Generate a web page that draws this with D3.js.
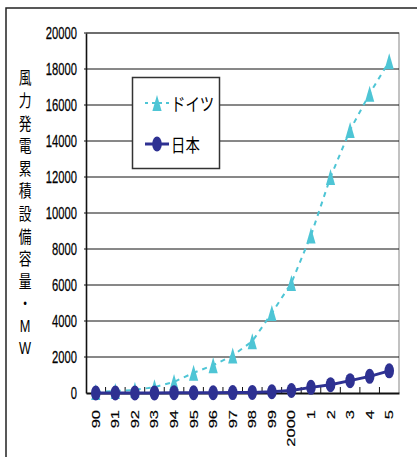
<!DOCTYPE html>
<html>
<head>
<meta charset="utf-8">
<script src="https://cdn.jsdelivr.net/npm/d3@7"></script>
<style>
  html, body { margin: 0; padding: 0; background: #fff; }
  svg { display: block; }
</style>
</head>
<body>
<script>
// Cumulative installed wind power capacity (MW), 1990–2005
const years = ["90","91","92","93","94","95","96","97","98","99","2000","1","2","3","4","5"];
const germany = [56, 106, 174, 326, 618, 1121, 1546, 2082, 2875, 4442, 6113, 8754, 11994, 14609, 16629, 18428];
const japan = [1, 1, 3, 5, 10, 10, 14, 21, 32, 70, 142, 313, 463, 686, 925, 1230];
const yTicks = [0, 2000, 4000, 6000, 8000, 10000, 12000, 14000, 16000, 18000, 20000];
const seriesNames = ["ドイツ", "日本"];
const yTitle = "風力発電累積設備容量・MW";

const W = 417, H = 457;
const plot = { left: 86, right: 399, top: 33, bottom: 393 };
const SX = 0.68;               // condensed lettering
const cyan = "#4EC5D5", navy = "#2E3192";
const latin = "'Liberation Sans', Arial, sans-serif";
const cjk = "'Noto Sans CJK JP', sans-serif";

const svg = d3.select("body").append("svg").attr("width", W).attr("height", H);

// outer frame
svg.append("rect").attr("x", 6).attr("y", 8).attr("width", W + 10).attr("height", H + 10)
  .attr("fill", "#fff").attr("stroke", "#222").attr("stroke-width", 1.5);

const x = d3.scaleBand().domain(years).range([plot.left, plot.right]).paddingInner(0).paddingOuter(0);
const y = d3.scaleLinear().domain([0, 20000]).range([plot.bottom, plot.top]);
const cx = d => x(d) + x.bandwidth() / 2;

// plot area border (top / right)
svg.append("path")
  .attr("d", `M${plot.left},${plot.top}H${plot.right}V${plot.bottom}`)
  .attr("fill", "none").attr("stroke", "#9a9a9a").attr("stroke-width", 1.2);

// gridlines
svg.append("g").selectAll("line").data(yTicks.filter(t => t > 0)).join("line")
  .attr("x1", plot.left - 2).attr("x2", plot.right)
  .attr("y1", d => y(d)).attr("y2", d => y(d))
  .attr("stroke", "#111").attr("stroke-width", 1);

// y axis
const yAxis = svg.append("g").attr("transform", `translate(${plot.left},0)`)
  .call(d3.axisLeft(y).tickValues(yTicks).tickSize(0).tickPadding(0).tickFormat(d3.format("d")));
yAxis.select(".domain").attr("stroke", "#111").attr("stroke-width", 1.6);
yAxis.selectAll(".tick text").each(function () {
  d3.select(this).attr("x", null).attr("dy", null).attr("y", null)
    .attr("transform", `translate(-9,0) scale(${SX},1)`)
    .attr("dominant-baseline", "central")
    .attr("text-anchor", "end")
    .attr("fill", "#000").attr("stroke", "#000").attr("stroke-width", 0.25)
    .style("font-family", latin).style("font-size", "16.5px");
});

// x axis with inward ticks between categories
const xAxis = svg.append("g").attr("transform", `translate(0,${plot.bottom})`)
  .call(d3.axisBottom(x).tickSize(0).tickPadding(0));
xAxis.select(".domain").attr("stroke", "#111").attr("stroke-width", 1.8);
xAxis.selectAll(".tick line").remove();
xAxis.selectAll(".tick text").each(function () {
  d3.select(this).attr("y", null).attr("dy", null).attr("x", 0)
    .attr("transform", `translate(0,17) rotate(-90) scale(1,${SX})`)
    .attr("text-anchor", "end")
    .attr("dominant-baseline", "central")
    .attr("fill", "#000").attr("stroke", "#000").attr("stroke-width", 0.25)
    .style("font-family", latin).style("font-size", "16.5px");
});
svg.append("g").selectAll("line").data(years.slice(1)).join("line")
  .attr("x1", d => x(d)).attr("x2", d => x(d))
  .attr("y1", plot.bottom).attr("y2", plot.bottom - 6)
  .attr("stroke", "#111").attr("stroke-width", 1);

// y axis title, stacked vertically
const titleChars = Array.from(yTitle);
svg.append("g").selectAll("text").data(titleChars).join("text")
  .attr("transform", (d, i) => `translate(25,${77 + i * 22.6}) scale(0.75,1)`)
  .attr("text-anchor", "middle").attr("dominant-baseline", "central")
  .attr("fill", "#000")
  .style("font-family", (d) => /[A-Z]/.test(d) ? latin : cjk)
  .style("font-size", "17px")
  .text(d => d);

// series lines
const line = d3.line().x((d, i) => cx(years[i])).y(d => y(d));
svg.append("path").datum(germany).attr("d", line)
  .attr("fill", "none").attr("stroke", cyan).attr("stroke-width", 2)
  .attr("stroke-dasharray", "5,5");
svg.append("path").datum(japan).attr("d", line)
  .attr("fill", "none").attr("stroke", navy).attr("stroke-width", 3);

// markers
const tri = (px, py) => `M${px},${py - 8}L${px + 4.6},${py + 8}L${px - 4.6},${py + 8}Z`;
svg.append("g").selectAll("path").data(germany).join("path")
  .attr("d", (d, i) => tri(cx(years[i]), y(d)))
  .attr("fill", cyan);
svg.append("g").selectAll("ellipse").data(japan).join("ellipse")
  .attr("cx", (d, i) => cx(years[i])).attr("cy", d => y(d))
  .attr("rx", 4.8).attr("ry", 7.5).attr("fill", navy);

// legend
const lg = svg.append("g");
lg.append("rect").attr("x", 132.5).attr("y", 77.5).attr("width", 87).attr("height", 91)
  .attr("fill", "#fff").attr("stroke", "#333").attr("stroke-width", 1.5);
const legendRows = [
  { name: seriesNames[0], y: 103, color: cyan, dash: "3,4", w: 2, marker: "tri" },
  { name: seriesNames[1], y: 144, color: navy, dash: null, w: 3, marker: "ell" }
];
legendRows.forEach(r => {
  lg.append("line").attr("x1", 145).attr("x2", 169).attr("y1", r.y).attr("y2", r.y)
    .attr("stroke", r.color).attr("stroke-width", r.w)
    .attr("stroke-dasharray", r.dash);
  if (r.marker === "tri") {
    lg.append("path").attr("d", tri(157, r.y)).attr("fill", r.color);
  } else {
    lg.append("ellipse").attr("cx", 157).attr("cy", r.y).attr("rx", 4.8).attr("ry", 7.5).attr("fill", r.color);
  }
  lg.append("text")
    .attr("transform", `translate(171,${r.y}) scale(0.8,1)`)
    .attr("dominant-baseline", "central")
    .attr("fill", "#000")
    .style("font-family", cjk).style("font-size", "18px")
    .text(r.name);
});
</script>
</body>
</html>
